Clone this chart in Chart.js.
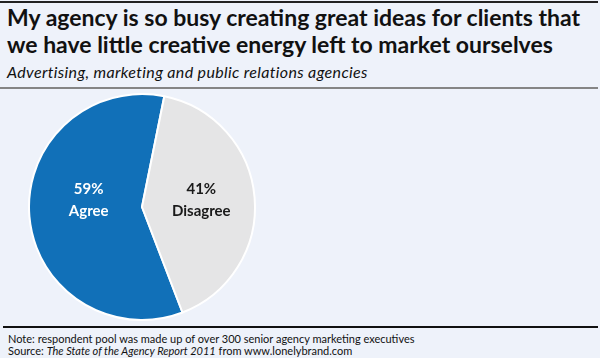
<!DOCTYPE html>
<html>
<head>
<meta charset="utf-8">
<script src="https://cdn.jsdelivr.net/npm/chart.js@4.4.0/dist/chart.umd.min.js"></script>
<style>
  html, body { margin:0; padding:0; }
  body { width:600px; height:358px; background:#EEF2FA; position:relative; overflow:hidden; font-family: Lato, "Open Sans", sans-serif; color:#111; }
  .abs { position:absolute; white-space:nowrap; }
  #topline { left:0; top:1px; width:598px; height:2px; background:#222; }
  #title { left:7px; top:4px; font-weight:700; font-size:23px; line-height:27px; }
  #subtitle { left:7px; top:63px; font-style:italic; font-size:16px; line-height:18px; letter-spacing:0.35px; }
  #midline { left:0; top:87px; width:598px; height:2px; background:#858585; }
  #botline { left:3px; top:326px; width:595px; height:2px; background:#111; }
  #note { left:8px; top:333px; font-size:11px; line-height:12px; }
  #chartbox { left:0px; top:93px; width:284px; height:228px; }
</style>
</head>
<body>
<div class="abs" id="topline"></div>
<div class="abs" id="title">My agency is so busy creating great ideas for clients that<br>we have little creative energy left to market ourselves</div>
<div class="abs" id="subtitle">Advertising, marketing and public relations agencies</div>
<div class="abs" id="midline"></div>
<div class="abs" id="chartbox"><canvas id="c" width="284" height="228"></canvas></div>
<div class="abs" id="botline"></div>
<div class="abs" id="note">Note: respondent pool was made up of over 300 senior agency marketing executives<br>Source: <i>The State of the Agency Report 2011</i> from www.lonelybrand.com</div>
<script>
const categories = ["Agree", "Disagree"];
const values = [59, 41];
const valueLabels = ["59%", "41%"];
const colors = ["#1170B8", "#E5E5E6"];
const labelColors = ["#FFFFFF", "#1A1A1A"];

const sliceLabels = {
  id: 'sliceLabels',
  afterDatasetsDraw(chart) {
    const ctx = chart.ctx;
    const meta = chart.getDatasetMeta(0);
    ctx.save();
    ctx.font = "bold 15px Lato, 'Open Sans', sans-serif";
    ctx.textAlign = 'center';
    ctx.textBaseline = 'middle';
    meta.data.forEach((arc, i) => {
      const p = arc.tooltipPosition();
      const x = p.x + 3;
      const y = arc.y - 7;
      ctx.fillStyle = labelColors[i];
      ctx.fillText(valueLabels[i], x, y - 11);
      ctx.fillText(categories[i], x, y + 11);
    });
    ctx.restore();
  }
};

new Chart(document.getElementById('c'), {
  type: 'pie',
  data: {
    labels: categories,
    datasets: [{
      data: values,
      backgroundColor: colors,
      borderColor: '#FFFFFF',
      borderWidth: 2
    }]
  },
  options: {
    responsive: false,
    animation: false,
    rotation: 159,
    layout: { padding: 0 },
    plugins: { legend: { display: false }, tooltip: { enabled: false } }
  },
  plugins: [sliceLabels]
});
</script>
</body>
</html>
